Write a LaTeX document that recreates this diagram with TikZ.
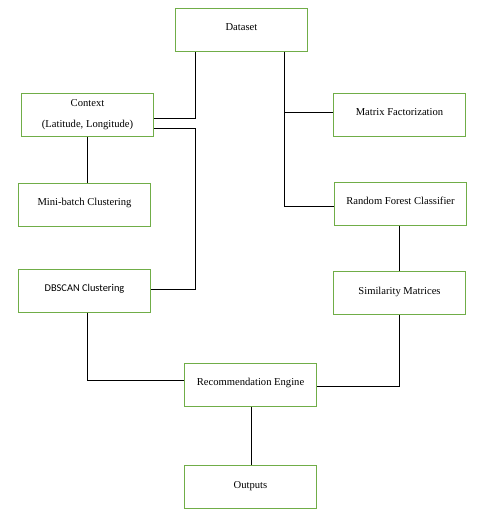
\documentclass[tikz,border=0pt]{standalone}
\usepackage{fontspec}
\setmainfont{Liberation Serif}
\newfontfamily\calibrifont{Carlito}
\definecolor{boxgreen}{HTML}{70AD47}

\begin{document}
\begin{tikzpicture}[x=1pt,y=-1pt,
    box/.style={draw=boxgreen,line width=1pt,inner sep=0pt,
      minimum width=132.5pt,minimum height=42.7pt,
      text height=7.5pt,text depth=5.5pt,
      font=\fontsize{10.6}{12.7}\selectfont},
    link/.style={line width=1pt}]
  \useasboundingbox (0,0) rectangle (487,516);

  % Drawing box Dataset
  \node[box] (data) at (241.4,29.7) {Dataset};

  % Drawing box Context
  \node[box,align=center,text height=,text depth=] (ctx) at (87.5,114.7)
    {\raisebox{2.5pt}{\begin{tabular}{@{}c@{}}Context\\[8.3pt](Latitude, Longitude)\end{tabular}}};

  % Drawing boxes of the left column
  \node[box] (mb) at (84.5,204.7) {Mini-batch Clustering};
  \node[box,font=\calibrifont\fontsize{10.4}{12.5}\selectfont] (dbs) at (84.5,290.8) {DBSCAN Clustering};

  % Drawing boxes of the right column
  \node[box] (mf) at (399.5,115.0) {Matrix Factorization};
  \node[box] (rf) at (400.5,203.9) {Random Forest Classifier};
  \node[box] (sim) at (399.5,293.0) {Similarity Matrices};

  % Drawing boxes at the bottom
  \node[box] (rec) at (250.5,384.7) {Recommendation Engine};
  \node[box] (out) at (250.5,487.0) {Outputs};

  % Drawing connector Context Dataset
  \draw[link] ([yshift=-3.6pt]ctx.east) -| ([xshift=20.5pt]data.south west);

  % Drawing connector Context DBSCAN
  \draw[link] ([yshift=-14pt]ctx.east) -- ++(41,0) |- ([yshift=1.5pt]dbs.east);

  % Drawing connector Context Mini-batch
  \draw[link] (ctx.south) -- (ctx.south |- mb.north);

  % Drawing connectors Dataset Matrix Random
  \draw[link] ([xshift=-23.7pt]data.south east) |- ([yshift=-2.1pt]rf.west);
  \draw[link] ([yshift=2.7pt]mf.west) -| ([xshift=-23.7pt]data.south east);

  % Drawing connector Random Similarity
  \draw[link] (sim.north |- rf.south) -- (sim.north);

  % Drawing connectors into Recommendation
  \draw[link] (sim.south) |- ([yshift=-2pt]rec.east);
  \draw[link] ([xshift=2.8pt]dbs.south) |- ([yshift=4.7pt]rec.west);

  % Drawing connector Recommendation Outputs
  \draw[link] ([xshift=1.2pt]rec.south) -- ([xshift=1.2pt]out.north);
\end{tikzpicture}
\end{document}
